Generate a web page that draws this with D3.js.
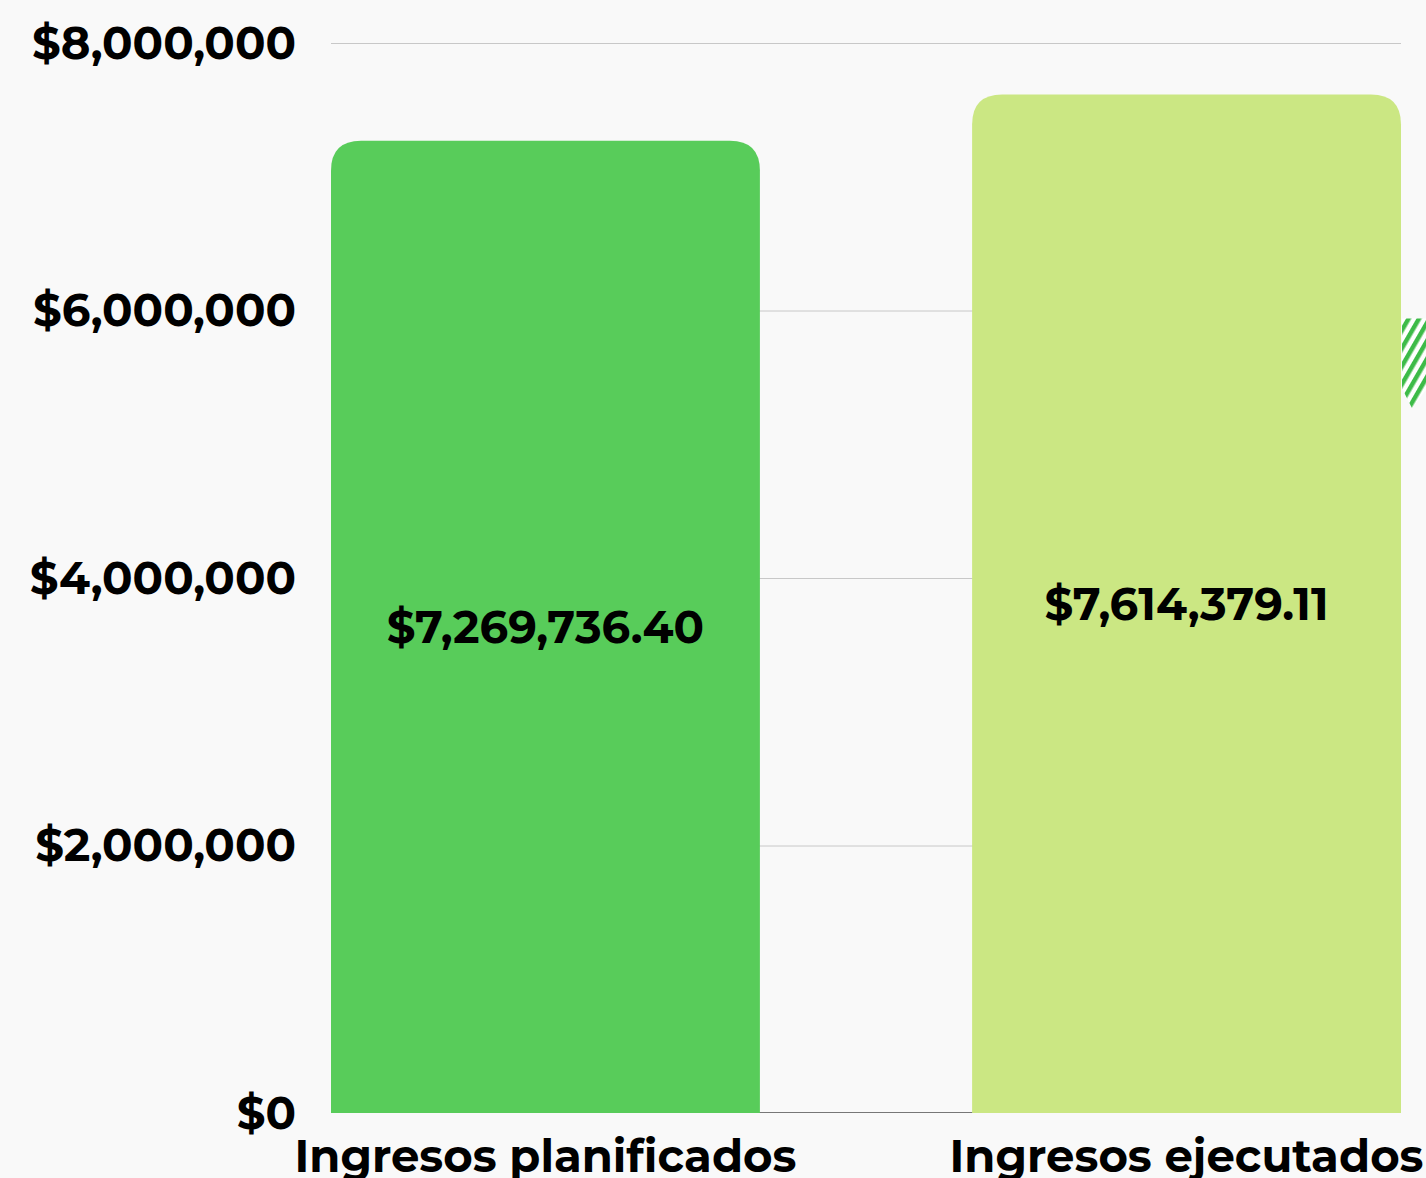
<!DOCTYPE html>
<html>
<head>
<meta charset="utf-8">
<script src="https://cdn.jsdelivr.net/npm/d3@7"></script>
<style>
  html, body { margin: 0; padding: 0; background: #f9f9f9; }
  svg { display: block; }
  text { font-family: Montserrat, "DejaVu Sans", sans-serif; font-weight: bold; fill: #000; }
</style>
</head>
<body>
<div id="chart"></div>
<script>
var categories = ["Ingresos planificados", "Ingresos ejecutados"];
var values = [7269736.40, 7614379.11];
var valueLabels = ["$7,269,736.40", "$7,614,379.11"];
var barColors = ["#58cc5a", "#cbe783"];
var yTicks = [0, 2000000, 4000000, 6000000, 8000000];

var width = 1426,
    height = 1178;
var margin = {top: 43, right: 25, bottom: 65, left: 331};
var radius = 30;
var fontSize = "45px";

var svg = d3.select("#chart").append("svg")
  .attr("width", width)
  .attr("height", height);

svg.append("rect")
  .attr("width", width)
  .attr("height", height)
  .attr("fill", "#f9f9f9");

var x = d3.scaleBand()
  .domain(categories)
  .range([margin.left, width - margin.right])
  .paddingInner(0.331)
  .paddingOuter(0);

var y = d3.scaleLinear()
  .domain([0, 8000000])
  .range([height - margin.bottom, margin.top]);

// hatch pattern for the clipped marker on the right
var defs = svg.append("defs");
var pat = defs.append("pattern")
  .attr("id", "hatch")
  .attr("patternUnits", "userSpaceOnUse")
  .attr("width", 9)
  .attr("height", 9)
  .attr("patternTransform", "rotate(30)");
pat.append("rect").attr("width", 9).attr("height", 9).attr("fill", "#ffffff");
pat.append("rect").attr("width", 4.5).attr("height", 9).attr("fill", "#3dbb48");

// grid lines
svg.append("g")
  .selectAll("line")
  .data(yTicks.filter(function(d) { return d > 0; }))
  .join("line")
  .attr("x1", margin.left)
  .attr("x2", width - margin.right)
  .attr("y1", function(d) { return y(d) + 0.5; })
  .attr("y2", function(d) { return y(d) + 0.5; })
  .attr("stroke", "#c8c8c8")
  .attr("stroke-width", 1);

// baseline
svg.append("line")
  .attr("x1", margin.left)
  .attr("x2", width - margin.right)
  .attr("y1", y(0) - 0.5)
  .attr("y2", y(0) - 0.5)
  .attr("stroke", "#777777")
  .attr("stroke-width", 1);

// hatched marker, partly off the right edge
var mk = {x0: x.range()[1] + 1, top: y(5940000), bot: y(5270000)};
svg.append("path")
  .attr("d", "M" + mk.x0 + "," + mk.top + "L" + (mk.x0 + 40) + "," + mk.top +
    "L" + (mk.x0 + 40) + "," + (mk.top + 50) + "L" + (mk.x0 + 10) + "," + mk.bot +
    "L" + mk.x0 + "," + (mk.bot - 20) + "Z")
  .attr("fill", "url(#hatch)");

function topRounded(x0, y0, w, h, r) {
  return "M" + x0 + "," + (y0 + h) +
    "V" + (y0 + r) +
    "Q" + x0 + "," + y0 + " " + (x0 + r) + "," + y0 +
    "H" + (x0 + w - r) +
    "Q" + (x0 + w) + "," + y0 + " " + (x0 + w) + "," + (y0 + r) +
    "V" + (y0 + h) + "Z";
}

// bars
svg.append("g")
  .selectAll("path")
  .data(values)
  .join("path")
  .attr("d", function(d, i) {
    return topRounded(x(categories[i]), y(d), x.bandwidth(), y(0) - y(d), radius);
  })
  .attr("fill", function(d, i) { return barColors[i]; });

// value labels
svg.append("g")
  .selectAll("text")
  .data(values)
  .join("text")
  .attr("x", function(d, i) { return x(categories[i]) + x.bandwidth() / 2; })
  .attr("y", function(d) { return (y(d) + y(0)) / 2; })
  .attr("dy", "0.35em")
  .attr("text-anchor", "middle")
  .style("font-size", fontSize)
  .text(function(d, i) { return valueLabels[i]; });

// y axis labels
var fmt = d3.format("$,");
svg.append("g")
  .selectAll("text")
  .data(yTicks)
  .join("text")
  .attr("x", 296)
  .attr("y", function(d) { return y(d); })
  .attr("dy", "0.35em")
  .attr("text-anchor", "end")
  .style("font-size", fontSize)
  .text(function(d) { return fmt(d); });

// category labels (cut by the bottom edge, as in the source)
svg.append("g")
  .selectAll("text")
  .data(categories)
  .join("text")
  .attr("x", function(d) { return x(d) + x.bandwidth() / 2; })
  .attr("y", 1172)
  .attr("text-anchor", "middle")
  .style("font-size", fontSize)
  .text(function(d) { return d; });
</script>
</body>
</html>
